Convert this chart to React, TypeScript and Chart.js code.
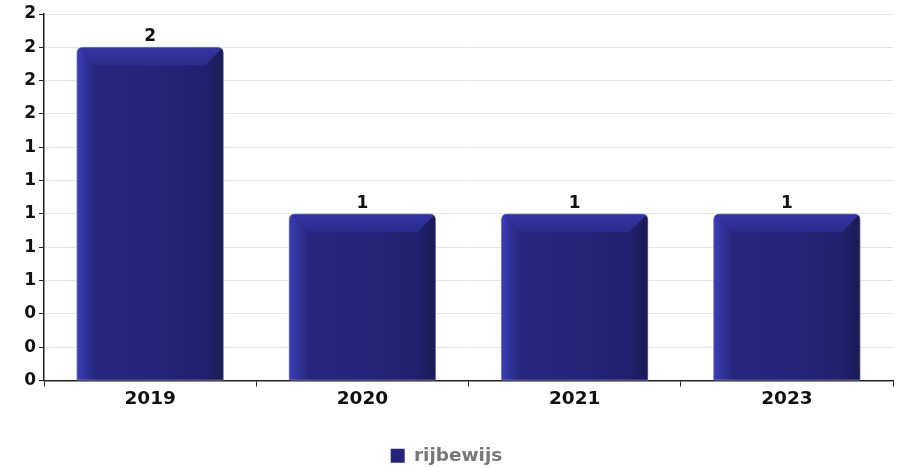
import React, { useEffect, useRef } from "react";
import { Chart, registerables } from "chart.js";

Chart.register(...registerables);

const categories = ["2019", "2020", "2021", "2023"];
const seriesName = "rijbewijs";
const rijbewijs = [2, 1, 1, 1];
const yTickValues = [0, 0.2, 0.4, 0.6, 0.8, 1.0, 1.2, 1.4, 1.6, 1.8, 2.0, 2.2];

const FONT = "'DejaVu Sans', sans-serif";
const MAIN = "#23257a";

function roundedTopPath(ctx: CanvasRenderingContext2D, x0: number, x1: number, top: number, bottom: number, r: number) {
  ctx.beginPath();
  ctx.moveTo(x0, bottom);
  ctx.lineTo(x0, top + r);
  ctx.quadraticCurveTo(x0, top, x0 + r, top);
  ctx.lineTo(x1 - r, top);
  ctx.quadraticCurveTo(x1, top, x1, top + r);
  ctx.lineTo(x1, bottom);
  ctx.closePath();
}

const bevelPlugin = {
  id: "bevel",
  afterDatasetsDraw(chart: any) {
    const ctx: CanvasRenderingContext2D = chart.ctx;
    const meta = chart.getDatasetMeta(0);
    meta.data.forEach((bar: any, i: number) => {
      const { x, y, base, width } = bar.getProps(["x", "y", "base", "width"], true);
      const x0 = x - width / 2;
      const x1 = x + width / 2;
      const top = y;
      const bottom = base;
      const d = 18;
      ctx.save();
      roundedTopPath(ctx, x0, x1, top, bottom, 6);
      ctx.clip();
      const g = ctx.createLinearGradient(x0, 0, x1, 0);
      g.addColorStop(0, "#3a3db0");
      g.addColorStop(0.1, "#23267c");
      g.addColorStop(0.5, "#23257a");
      g.addColorStop(0.85, "#202170");
      g.addColorStop(1, "#1d1e62");
      ctx.fillStyle = g;
      ctx.fillRect(x0, top, width, bottom - top);
      // top bevel
      ctx.beginPath();
      ctx.moveTo(x0, top);
      ctx.lineTo(x1, top);
      ctx.lineTo(x1 - d, top + d);
      ctx.lineTo(x0 + d, top + d);
      ctx.closePath();
      const gt = ctx.createLinearGradient(0, top, 0, top + d);
      gt.addColorStop(0, "#3336a4");
      gt.addColorStop(1, "#2a2c8c");
      ctx.fillStyle = gt;
      ctx.fill();
      // left bevel
      ctx.beginPath();
      ctx.moveTo(x0, top);
      ctx.lineTo(x0 + d, top + d);
      ctx.lineTo(x0 + d, bottom);
      ctx.lineTo(x0, bottom);
      ctx.closePath();
      const gl = ctx.createLinearGradient(x0, 0, x0 + d, 0);
      gl.addColorStop(0, "#3b3eb4");
      gl.addColorStop(1, "#25287f");
      ctx.fillStyle = gl;
      ctx.fill();
      // right bevel
      ctx.beginPath();
      ctx.moveTo(x1, top);
      ctx.lineTo(x1, bottom);
      ctx.lineTo(x1 - d, bottom);
      ctx.lineTo(x1 - d, top + d);
      ctx.closePath();
      const gr = ctx.createLinearGradient(x1 - d, 0, x1, 0);
      gr.addColorStop(0, "#202170");
      gr.addColorStop(1, "#1a1b52");
      ctx.fillStyle = gr;
      ctx.fill();
      ctx.restore();
      ctx.save();
      roundedTopPath(ctx, x0, x1, top, bottom, 6);
      ctx.strokeStyle = "rgba(150,150,210,0.6)";
      ctx.lineWidth = 1;
      ctx.stroke();
      ctx.restore();
      // value label
      ctx.save();
      ctx.fillStyle = "#111";
      ctx.font = `bold 17px ${FONT}`;
      ctx.textAlign = "center";
      ctx.textBaseline = "bottom";
      ctx.fillText(String(rijbewijs[i]), x, top - 2);
      ctx.restore();
    });
  },
};

export default function App() {
  const ref = useRef<HTMLCanvasElement | null>(null);
  useEffect(() => {
    document.body.style.margin = "0";
    const chart = new Chart(ref.current!, {
      type: "bar",
      data: {
        labels: categories,
        datasets: [
          {
            label: seriesName,
            data: rijbewijs,
            backgroundColor: MAIN,
            borderWidth: 0,
            borderRadius: { topLeft: 6, topRight: 6, bottomLeft: 0, bottomRight: 0 },
            borderSkipped: "bottom",
            categoryPercentage: 1,
            barPercentage: 0.69,
          },
        ],
      },
      options: {
        animation: false,
        responsive: false,
        maintainAspectRatio: false,
        layout: { padding: { top: 14, right: 8, left: 0, bottom: -7 } },
        plugins: {
          legend: {
            position: "bottom",
            labels: {
              font: { family: FONT, size: 18.5, weight: "bold" },
              color: "#777",
              boxWidth: 14,
              boxHeight: 14,
              padding: 4,
            },
          },
          tooltip: { enabled: false },
        },
        scales: {
          x: {
            offset: true,
            grid: { display: true, drawOnChartArea: false, offset: true, tickLength: 6, tickColor: "#222" },
            border: { color: "#222", width: 1.5 },
            ticks: { color: "#111", font: { family: FONT, size: 18.5, weight: "bold" }, padding: 2 },
            afterFit: (s: any) => { s.height = 62; },
          },
          y: {
            min: 0,
            max: 2.2,
            afterBuildTicks: (s: any) => { s.ticks = yTickValues.map((v) => ({ value: v })); },
            grid: { color: "#e6e6e6", tickLength: 5, tickColor: "#222" },
            border: { color: "#222", width: 1.5 },
            ticks: {
              color: "#111",
              font: { family: FONT, size: 17, weight: "bold" },
              padding: 3,
              callback: (v: any) => String(Math.round(Number(v))),
            },
            afterFit: (s: any) => { s.width = 44; },
          },
        },
      },
      plugins: [bevelPlugin],
    });
    return () => chart.destroy();
  }, []);
  return (
    <div style={{ width: 901, height: 468 }}>
      <canvas ref={ref} width={901} height={468} style={{ width: 901, height: 468 }} />
    </div>
  );
}
